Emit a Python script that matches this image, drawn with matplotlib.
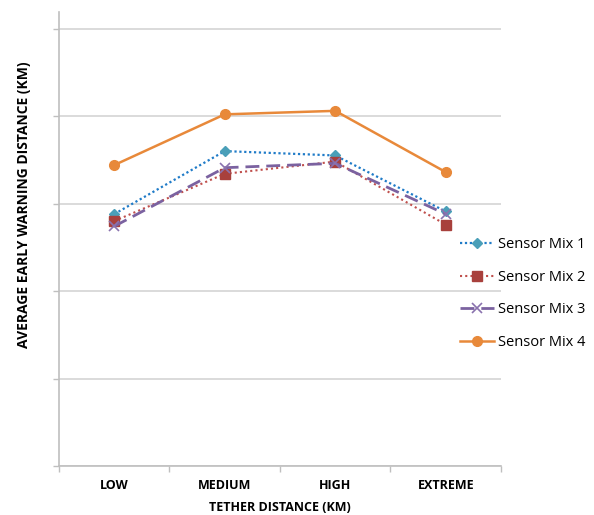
import matplotlib.pyplot as plt
from matplotlib.ticker import FixedLocator

# categories along the x axis
categories = ['LOW', 'MEDIUM', 'HIGH', 'EXTREME']

# average early warning distance per sensor mix (arbitrary units)
mix1 = [2.88, 3.60, 3.55, 2.91]
mix2 = [2.80, 3.34, 3.48, 2.76]
mix3 = [2.74, 3.41, 3.46, 2.88]
mix4 = [3.44, 4.02, 4.06, 3.36]

plt.rcParams['font.family'] = ['Open Sans', 'DejaVu Sans']

fig = plt.figure(figsize=(5.94, 5.15), dpi=100)
ax = fig.add_axes([0.0993, 0.0951, 0.7441, 0.8816])

x = list(range(len(categories)))

ax.plot(x, mix1, color='#1F7BC8', linestyle=(0, (1, 1.2)), linewidth=1.6,
        marker='D', markersize=5, markerfacecolor='#4A9FB8', markeredgecolor='#4A9FB8',
        label='Sensor Mix 1', zorder=3)
ax.plot(x, mix2, color='#C0504D', linestyle=(0, (1, 1.5)), linewidth=1.5,
        marker='s', markersize=6.5, markerfacecolor='#A8403C', markeredgecolor='#A8403C',
        label='Sensor Mix 2', zorder=3)
ax.plot(x, mix3, color='#7B62A0', linestyle=(0, (5, 2.5)), linewidth=2,
        marker='x', markersize=7, markeredgewidth=1.2, markeredgecolor='#8A72AE',
        label='Sensor Mix 3', zorder=3)
ax.plot(x, mix4, color='#E8893A', linestyle='-', linewidth=1.8,
        marker='o', markersize=7, markerfacecolor='#E8893A', markeredgecolor='#E8893A',
        label='Sensor Mix 4', zorder=3)

ax.set_xlim(-0.5, len(categories) - 0.5)
ax.set_ylim(0, 5.19)

ax.set_yticks([0, 1, 2, 3, 4, 5])
ax.set_yticklabels([])
ax.yaxis.grid(True, color='#D4D4D4', linewidth=1.2)
ax.set_axisbelow(True)
ax.tick_params(axis='y', length=4, color='#BFBFBF', width=1)

ax.set_xticks(x)
ax.set_xticklabels(categories, fontsize=9, fontweight='bold')
ax.tick_params(axis='x', which='major', length=0, pad=9)
ax.xaxis.set_minor_locator(FixedLocator([-0.5, 0.5, 1.5, 2.5, 3.5]))
ax.tick_params(axis='x', which='minor', length=4, color='#BFBFBF', width=1)

for side in ['top', 'right']:
    ax.spines[side].set_visible(False)
for side in ['left', 'bottom']:
    ax.spines[side].set_color('#BFBFBF')
    ax.spines[side].set_linewidth(1.2)

ax.set_xlabel('TETHER DISTANCE (KM)', fontsize=9, fontweight='bold')
ax.xaxis.set_label_coords(0.5, -0.078)
ax.set_ylabel('AVERAGE EARLY WARNING DISTANCE (KM)', fontsize=10, fontweight='bold')
ax.yaxis.set_label_coords(-0.063, 0.575)

fig.legend(loc='center left', bbox_to_anchor=(0.775, 0.43), frameon=False,
           fontsize=10.5, labelspacing=1.2, handlelength=2.3, handletextpad=0.3,
           borderpad=0, borderaxespad=0)

fig.savefig('out.png', dpi=100)
